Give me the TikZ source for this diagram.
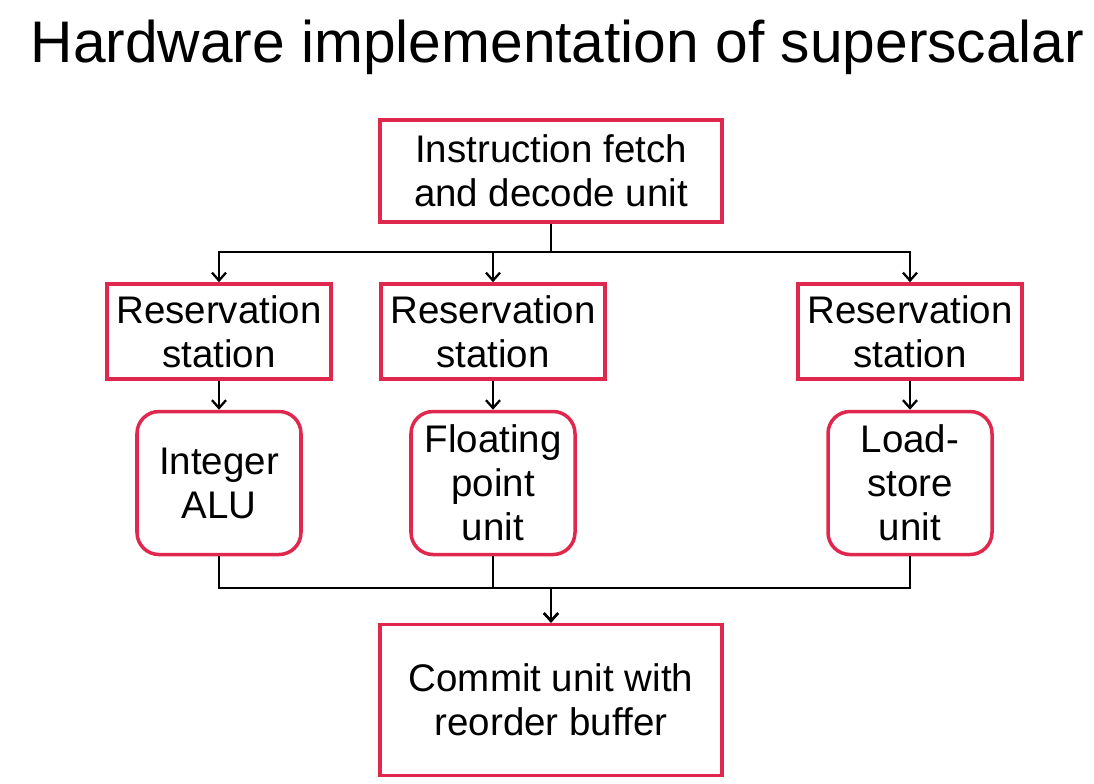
\documentclass[tikz,border=0pt]{standalone}
\usepackage{fontspec}
\setmainfont{Liberation Sans}
\usetikzlibrary{positioning,arrows.meta,calc}
\definecolor{cred}{HTML}{E0284F}
\definecolor{cink}{HTML}{000000}

\begin{document}
\begin{tikzpicture}[every node/.style={font=\fontsize{21.9}{25}\selectfont, text=cink},
    unitbox/.style={draw=cred, line width=2pt, align=center, inner sep=0pt},
    fubox/.style={unitbox, rounded corners=.44cm, minimum width=3.28cm, minimum height=2.86cm},
    rsbox/.style={unitbox, minimum width=4.48cm, minimum height=1.9cm},
    arr/.style={-{Straight Barb[length=4.5pt,width=8pt]}, line width=1.3pt, draw=cink}]
      \useasboundingbox (0,0) rectangle (21.88,-15.68);
      \node[anchor=base, font=\fontsize{33.4}{38}\selectfont] (title) at (11.15,-1.26) {Hardware implementation of superscalar};
      % front end
      \node[unitbox, minimum width=6.84cm, minimum height=2.04cm] (fetch) at (11.02,-3.42) {Instruction fetch\\and decode unit};
      \node[rsbox] (rs1) at (4.38,-6.63) {Reservation\\station};
      \node[rsbox] (rs2) at (9.86,-6.63) {Reservation\\station};
      \node[rsbox] (rs3) at (18.2,-6.63) {Reservation\\station};
      % execution units
      \node[fubox, below=.58cm of rs1] (alu) {Integer\\ALU};
      \node[fubox, below=.58cm of rs2] (fpu) {Floating\\point\\unit};
      \node[fubox, below=.58cm of rs3] (lsu) {Load-\\store\\unit};
      \node[unitbox, minimum width=6.84cm, minimum height=3.02cm] (commit) at (11.02,-14) {Commit unit with\\reorder buffer};
      \coordinate (split) at (11.02,-5.04);
      \coordinate (join) at (11.02,-11.76);
      \foreach \r/\u in {rs1/alu, rs2/fpu, rs3/lsu} {
        \draw[arr] (fetch.south) -- (split) -| (\r.north);
        \draw[arr] (\r.south) -- (\u.north);
        \draw[arr] (\u.south) |- (join) -- (commit.north);
      }
    \end{tikzpicture}
\end{document}
